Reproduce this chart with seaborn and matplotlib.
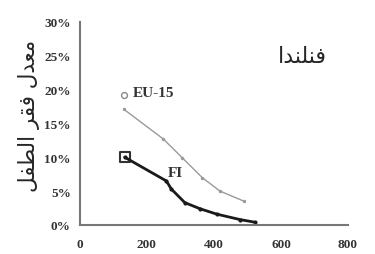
import matplotlib
matplotlib.use("Agg")
import matplotlib.pyplot as plt
import seaborn as sns
import pandas as pd
from matplotlib.ticker import PercentFormatter

# EU-15 curve
eu_x = [131, 249, 306, 365, 418, 490]
eu_y = [0.171, 0.127, 0.099, 0.070, 0.050, 0.035]
# Finland (FI) curve
fi_x = [134, 258, 273, 313, 358, 408, 477, 522]
fi_y = [0.100, 0.065, 0.053, 0.033, 0.024, 0.016, 0.008, 0.004]
# start markers next to the series labels
eu_mark_x = [131]
eu_mark_y = [0.192]
fi_mark_x = [134]
fi_mark_y = [0.100]

x_ticks = [0, 200, 400, 600, 800]
y_ticks = [0, 0.05, 0.10, 0.15, 0.20, 0.25, 0.30]

# Arabic text in visual order with presentation forms (matplotlib does no shaping)
title_ar = "\uFE8D\uFEAA\uFEE8\uFEE0\uFEE8\uFED3"  # فنلندا
ylabel_ar = ("\uFEDE\uFED4\uFEC4\uFEDF\uFE8D \uFEAE\uFED8\uFED3 "
             "\uFEDD\uFEAA\uFECC\uFEE3")  # معدل فقر الطفل

sns.set_style("white")
plt.rcParams["font.family"] = ["Liberation Serif", "DejaVu Sans"]

eu = pd.DataFrame({"x": eu_x, "y": eu_y})
fi = pd.DataFrame({"x": fi_x, "y": fi_y})

fig = plt.figure(figsize=(3.75, 2.55), dpi=100)
ax = fig.add_axes([0.213, 0.114, 0.715, 0.796])

sns.lineplot(x="x", y="y", data=eu, ax=ax, color="#9a9a9a", linewidth=1.0,
             marker="o", markersize=2.5, markeredgewidth=0)
sns.lineplot(x="x", y="y", data=fi, ax=ax, color="#1a1a1a", linewidth=2.0,
             marker="o", markersize=3, markeredgewidth=0)
sns.scatterplot(x=eu_mark_x, y=eu_mark_y, ax=ax, marker="o", s=18,
                facecolor="white", edgecolor="#8a8a8a", linewidth=1.0)
sns.scatterplot(x=fi_mark_x, y=fi_mark_y, ax=ax, marker="s", s=50,
                facecolor="white", edgecolor="#333333", linewidth=1.5)

ax.text(158, 0.195, "EU-15", fontsize=11, fontweight="bold",
        color="#333333", va="center")
ax.text(263, 0.077, "FI", fontsize=11, fontweight="bold",
        color="#333333", va="center")

ax.set_xlim(0, 800)
ax.set_ylim(0, 0.30)
ax.set_xticks(x_ticks)
ax.set_yticks(y_ticks)
ax.yaxis.set_major_formatter(PercentFormatter(1.0, decimals=0))
ax.tick_params(axis="both", labelsize=9.5, colors="#333333", length=3,
               width=1, direction="inout")
ax.tick_params(axis="x", pad=8)
ax.tick_params(axis="y", pad=5)
for lab in ax.get_xticklabels() + ax.get_yticklabels():
    lab.set_fontweight("bold")

sns.despine(ax=ax)
for side in ["left", "bottom"]:
    ax.spines[side].set_color("#777777")
    ax.spines[side].set_linewidth(1.5)

ax.set_xlabel("")
ax.set_ylabel(ylabel_ar, family=["DejaVu Sans"], fontsize=15.5)
ax.yaxis.set_label_coords(-0.15, 0.54)
fig.text(0.807, 0.775, title_ar, family=["DejaVu Sans"], fontsize=16,
         ha="center", va="center")

fig.savefig("out.png", dpi=100)
